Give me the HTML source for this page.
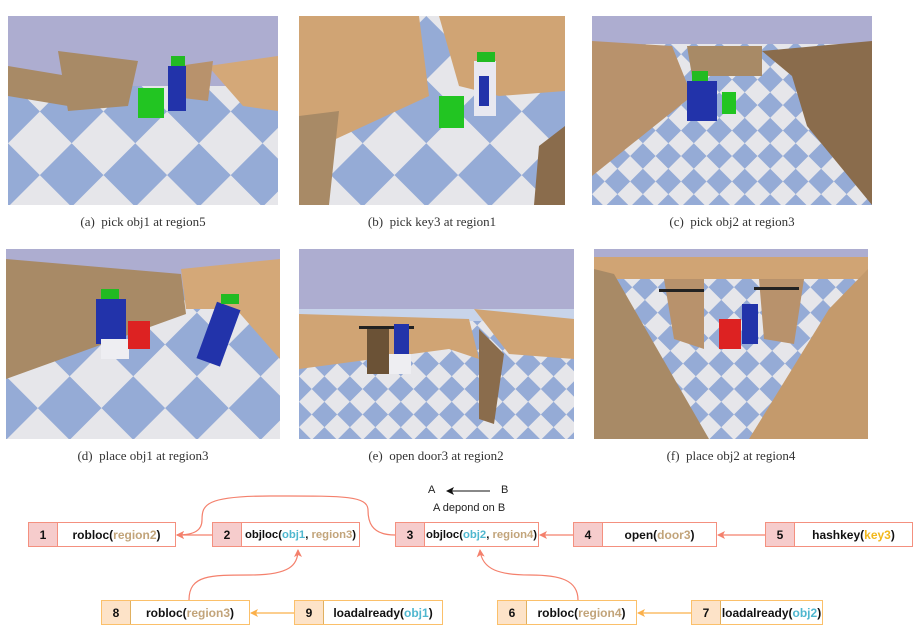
<!DOCTYPE html>
<html><head><meta charset="utf-8"><style>
body{margin:0;background:#fff;width:921px;height:641px;position:relative;overflow:hidden;font-family:"Liberation Sans",sans-serif}
.img{position:absolute;overflow:hidden}
.cap{position:absolute;font-family:"Liberation Serif",serif;font-size:13px;color:#333;text-align:center;width:300px}
.box{position:absolute;height:25px;border:1.5px solid #f4907f;background:#fff;display:flex;font-weight:bold;font-size:12px;color:#111;box-sizing:border-box}
.box .n{width:28px;background:#f6cccc;border-right:1.5px solid #f4907f;display:flex;align-items:center;justify-content:center}
.box .t{flex:1;display:flex;align-items:center;justify-content:center;white-space:nowrap}
.box.s .t{font-size:11.3px}
.box.o{border-color:#fbc06a}.box.o .n{background:#fde3c8;border-right-color:#e0b060}
.r{color:#c2a47a}.b{color:#4fb7cf}.y{color:#f2b81c}
</style></head><body>
<svg width="0" height="0" style="position:absolute"><defs>
<pattern id="ck" width="90" height="90" patternUnits="userSpaceOnUse" patternTransform="rotate(45)"><rect width="90" height="90" fill="#e6e6ea"/><rect width="45" height="45" fill="#95abd6"/><rect x="45" y="45" width="45" height="45" fill="#95abd6"/></pattern>
<pattern id="ck2" width="36" height="36" patternUnits="userSpaceOnUse" patternTransform="rotate(45)"><rect width="36" height="36" fill="#e6e6ea"/><rect width="18" height="18" fill="#95abd6"/><rect x="18" y="18" width="18" height="18" fill="#95abd6"/></pattern>
</defs></svg>

<!-- a -->
<svg class="img" style="left:8px;top:16px" width="270" height="189"><rect width="270" height="189" fill="url(#ck)"/><rect width="270" height="70" fill="#adadd0"/><polygon points="0,50 60,60 60,90 0,80" fill="#a88a66"/><polygon points="50,35 130,45 120,90 60,95" fill="#a88a66"/><polygon points="200,50 270,40 270,95 235,90" fill="#d4a878"/><polygon points="170,50 205,45 200,85 175,82" fill="#b8926c"/><rect x="130" y="72" width="26" height="30" fill="#22c522"/><rect x="160" y="50" width="18" height="45" fill="#2233aa"/><rect x="163" y="40" width="14" height="10" fill="#22bb22"/></svg>
<div class="cap" style="left:-7px;top:214px">(a)&nbsp; pick obj1 at region5</div>
<!-- b -->
<svg class="img" style="left:299px;top:16px" width="266" height="189"><rect width="266" height="189" fill="url(#ck)"/><polygon points="0,0 120,0 130,80 0,140" fill="#d0a474"/><polygon points="0,100 40,95 30,189 0,189" fill="#a88a66"/><polygon points="140,0 266,0 266,75 200,80 160,70" fill="#d0a474"/><polygon points="240,130 266,110 266,189 235,189" fill="#8a6c4c"/><rect x="140" y="80" width="25" height="32" fill="#22c522"/><rect x="175" y="45" width="22" height="55" fill="#e8e8f0"/><rect x="180" y="60" width="10" height="30" fill="#2233aa"/><rect x="178" y="36" width="18" height="10" fill="#22bb22"/></svg>
<div class="cap" style="left:282px;top:214px">(b)&nbsp; pick key3 at region1</div>
<!-- c -->
<svg class="img" style="left:592px;top:16px" width="280" height="189"><rect width="280" height="189" fill="url(#ck2)"/><rect width="280" height="28" fill="#adadd0"/><polygon points="0,25 80,30 100,80 0,160" fill="#b8926c"/><polygon points="170,35 280,25 280,189 215,110 200,60" fill="#8a6c4c"/><polygon points="95,30 170,30 170,60 100,60" fill="#a88a66"/><rect x="95" y="65" width="30" height="40" fill="#2233aa"/><rect x="100" y="55" width="16" height="10" fill="#22bb22"/><rect x="130" y="76" width="14" height="22" fill="#22c522"/></svg>
<div class="cap" style="left:582px;top:214px">(c)&nbsp; pick obj2 at region3</div>
<!-- d -->
<svg class="img" style="left:6px;top:249px" width="274" height="190"><rect width="274" height="190" fill="url(#ck)"/><rect width="274" height="40" fill="#adadd0"/><polygon points="0,10 175,25 180,65 0,130" fill="#a88a66"/><polygon points="175,20 274,10 274,110 230,60 180,60" fill="#d4a878"/><rect x="90" y="50" width="30" height="45" fill="#2233aa"/><rect x="95" y="40" width="18" height="10" fill="#22bb22"/><rect x="95" y="90" width="28" height="20" fill="#eeeef2"/><rect x="122" y="72" width="22" height="28" fill="#dd2222"/><rect x="200" y="55" width="25" height="60" fill="#2233aa" transform="rotate(20 212 85)"/><rect x="215" y="45" width="18" height="10" fill="#22bb22"/></svg>
<div class="cap" style="left:-7px;top:448px">(d)&nbsp; place obj1 at region3</div>
<!-- e -->
<svg class="img" style="left:299px;top:249px" width="275" height="190"><rect width="275" height="190" fill="url(#ck2)"/><rect width="275" height="65" fill="#adadd0"/><rect y="60" width="275" height="12" fill="#c8d4ea"/><polygon points="0,65 170,70 180,110 150,100 0,120" fill="#d0a474"/><polygon points="175,60 275,70 275,110 210,105" fill="#d0a474"/><polygon points="180,80 205,105 195,175 180,170" fill="#8a6c4c"/><rect x="68" y="80" width="22" height="45" fill="#6b5236"/><rect x="60" y="77" width="55" height="3" fill="#222"/><rect x="95" y="75" width="15" height="30" fill="#2233aa"/><rect x="90" y="105" width="22" height="20" fill="#eeeef2"/></svg>
<div class="cap" style="left:286px;top:448px">(e)&nbsp; open door3 at region2</div>
<!-- f -->
<svg class="img" style="left:594px;top:249px" width="274" height="190"><rect width="274" height="190" fill="url(#ck2)"/><rect width="274" height="10" fill="#adadd0"/><polygon points="0,8 274,8 274,30 0,30" fill="#d0a474"/><polygon points="0,20 20,25 115,190 0,190" fill="#a88a66"/><polygon points="274,20 274,190 155,190 235,60" fill="#c49a6c"/><polygon points="70,30 110,30 110,100 80,90" fill="#b8926c"/><polygon points="165,30 210,30 200,95 170,90" fill="#b8926c"/><rect x="65" y="40" width="45" height="3" fill="#222"/><rect x="160" y="38" width="45" height="3" fill="#222"/><rect x="148" y="55" width="16" height="40" fill="#2233aa"/><rect x="125" y="70" width="22" height="30" fill="#dd2222"/></svg>
<div class="cap" style="left:581px;top:448px">(f)&nbsp; place obj2 at region4</div>

<!-- legend -->
<div style="position:absolute;left:428px;top:484px;font-size:11px;color:#222">A</div>
<div style="position:absolute;left:501px;top:484px;font-size:11px;color:#222">B</div>
<div style="position:absolute;left:433px;top:502px;font-size:11px;color:#222">A depond on B</div>

<svg style="position:absolute;left:0;top:0" width="921" height="641">
<defs>
<marker id="mr" markerWidth="8" markerHeight="8" refX="7" refY="4" orient="auto" markerUnits="userSpaceOnUse"><path d="M0,0 L8,4 L0,8 L2,4z" fill="#f4806c"/></marker>
<marker id="mo" markerWidth="8" markerHeight="8" refX="7" refY="4" orient="auto" markerUnits="userSpaceOnUse"><path d="M0,0 L8,4 L0,8 L2,4z" fill="#fbb04a"/></marker>
<marker id="mk" markerWidth="8" markerHeight="8" refX="7" refY="4" orient="auto" markerUnits="userSpaceOnUse"><path d="M0,0 L8,4 L0,8 L2,4z" fill="#111"/></marker>
</defs>
<line x1="490" y1="491" x2="447" y2="491" stroke="#111" stroke-width="1" marker-end="url(#mk)"/>
<g fill="none" stroke="#f4806c" stroke-width="1.2">
<line x1="212" y1="535" x2="177" y2="535" marker-end="url(#mr)"/>
<line x1="573" y1="535" x2="540" y2="535" marker-end="url(#mr)"/>
<line x1="765" y1="535" x2="718" y2="535" marker-end="url(#mr)"/>
<path d="M395,535 C370,535 368,520 368,510 C368,495 340,496 270,496 C205,496 202,505 202,520 C202,530 195,535 177,535" marker-end="url(#mr)"/>
<path d="M189,600 C189,575 210,575 250,575 C290,575 298,565 298,550" marker-end="url(#mr)"/>
<path d="M578,600 C578,580 560,575 530,575 C500,575 482,570 480,550" marker-end="url(#mr)"/>
</g>
<g stroke="#fbb04a" stroke-width="1.2"><line x1="294" y1="613" x2="251" y2="613" marker-end="url(#mo)"/><line x1="691" y1="613" x2="638" y2="613" marker-end="url(#mo)"/></g>
</svg>

<div class="box" style="left:28px;top:522px;width:148px"><div class="n">1</div><div class="t">robloc(<span class="r">region2</span>)</div></div>
<div class="box s" style="left:212px;top:522px;width:148px"><div class="n">2</div><div class="t">objloc(<span class="b">obj1</span>,&nbsp;<span class="r">region3</span>)</div></div>
<div class="box s" style="left:395px;top:522px;width:144px"><div class="n">3</div><div class="t">objloc(<span class="b">obj2</span>,&nbsp;<span class="r">region4</span>)</div></div>
<div class="box" style="left:573px;top:522px;width:144px"><div class="n">4</div><div class="t">open(<span class="r">door3</span>)</div></div>
<div class="box" style="left:765px;top:522px;width:148px"><div class="n">5</div><div class="t">hashkey(<span class="y">key3</span>)</div></div>
<div class="box o" style="left:101px;top:600px;width:149px"><div class="n">8</div><div class="t">robloc(<span class="r">region3</span>)</div></div>
<div class="box o" style="left:294px;top:600px;width:149px"><div class="n">9</div><div class="t">loadalready(<span class="b">obj1</span>)</div></div>
<div class="box o" style="left:497px;top:600px;width:140px"><div class="n">6</div><div class="t">robloc(<span class="r">region4</span>)</div></div>
<div class="box o" style="left:691px;top:600px;width:132px"><div class="n">7</div><div class="t">loadalready(<span class="b">obj2</span>)</div></div>
</body></html>
